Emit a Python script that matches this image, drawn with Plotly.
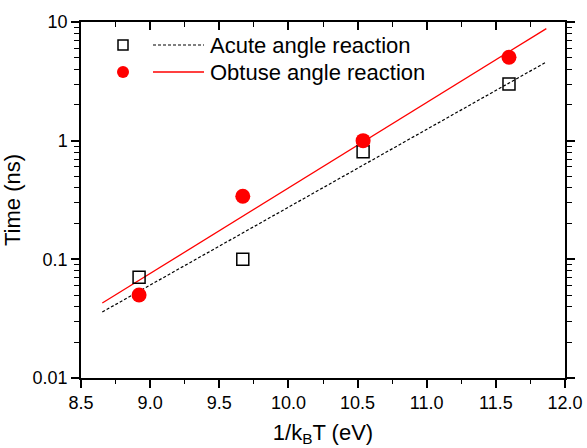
import plotly.graph_objects as go

# Data
inv_kT = [8.92, 9.67, 10.54, 11.595]
t_acute = [0.0705, 0.10, 0.805, 3.0]
t_obtuse = [0.050, 0.34, 1.0, 5.05]

fit_x = [8.654, 11.865]
fit_acute = [0.036, 4.6]
fit_obtuse = [0.0428, 8.8]

x_ticks = [8.5, 9.0, 9.5, 10.0, 10.5, 11.0, 11.5, 12.0]
x_tick_labels = ["8.5", "9.0", "9.5", "10.0", "10.5", "11.0", "11.5", "12.0"]
x_minor = [8.75, 9.25, 9.75, 10.25, 10.75, 11.25, 11.75]
y_ticks = [0.01, 0.1, 1, 10]
y_tick_labels = ["0.01", "0.1", "1", "10"]

legend_labels = ["Acute angle reaction", "Obtuse angle reaction"]

FONT = "Liberation Sans, Arial, sans-serif"

y_minor = [d * k for d in y_ticks[:-1] for k in range(2, 10)]

XR = [8.5, 12.0]
YR = [-2, 1]

fig = go.Figure()

fig.add_trace(go.Scatter(x=fit_x, y=fit_acute, mode="lines",
                         line=dict(color="black", width=1.2, dash="3px,2px"),
                         showlegend=False))
fig.add_trace(go.Scatter(x=fit_x, y=fit_obtuse, mode="lines",
                         line=dict(color="red", width=1.3),
                         showlegend=False))
fig.add_trace(go.Scatter(x=inv_kT, y=t_acute, mode="markers",
                         marker=dict(symbol="square-open", size=12, color="black",
                                     line=dict(width=1.5, color="black")),
                         showlegend=False))
fig.add_trace(go.Scatter(x=inv_kT, y=t_obtuse, mode="markers",
                         marker=dict(symbol="circle", size=15, color="red"),
                         showlegend=False))

# Legend glyphs on an overlay axis (0..1 both ways)
W, H = 587, 448
L, R, T, B = 81, 22, 22, 70
pw, ph = W - L - R, H - T - B
def px(x):
    return (x - L) / pw
def py(y):
    return 1 - (y - T) / ph

leg_rows = [45, 72]
fig.add_trace(go.Scatter(x=[px(123)], y=[py(leg_rows[0])], mode="markers",
                         marker=dict(symbol="square-open", size=10, color="black",
                                     line=dict(width=1.5, color="black")),
                         xaxis="x2", yaxis="y2", showlegend=False))
fig.add_trace(go.Scatter(x=[px(123)], y=[py(leg_rows[1])], mode="markers",
                         marker=dict(symbol="circle", size=12, color="red"),
                         xaxis="x2", yaxis="y2", showlegend=False))
fig.add_trace(go.Scatter(x=[px(153), px(204)], y=[py(leg_rows[0])] * 2, mode="lines",
                         line=dict(color="black", width=1.2, dash="3px,2px"),
                         xaxis="x2", yaxis="y2", showlegend=False))
fig.add_trace(go.Scatter(x=[px(153), px(204)], y=[py(leg_rows[1])] * 2, mode="lines",
                         line=dict(color="red", width=1.3),
                         xaxis="x2", yaxis="y2", showlegend=False))

# invisible traces to activate the extra tick axes
for xa, ya in [("x3", "y"), ("x4", "y"), ("x5", "y"), ("x", "y3")]:
    fig.add_trace(go.Scatter(x=[x_ticks[0]], y=[y_ticks[0]], mode="markers",
                             marker=dict(opacity=0), xaxis=xa, yaxis=ya,
                             showlegend=False, hoverinfo="skip"))

annotations = []
for lbl, row in zip(legend_labels, leg_rows):
    annotations.append(dict(x=px(208), y=py(row + 1), xref="paper", yref="paper",
                            text=lbl, showarrow=False, xanchor="left", yanchor="middle",
                            font=dict(family=FONT, size=22, color="black")))

tick_common = dict(showgrid=False, zeroline=False, automargin=False, tickcolor="black",
                   fixedrange=True)

fig.update_layout(
    width=W, height=H,
    margin=dict(l=L, r=R, t=T, b=B, autoexpand=False),
    paper_bgcolor="white", plot_bgcolor="white",
    font=dict(family=FONT, size=18, color="black"),
    annotations=annotations,
    xaxis=dict(range=XR, tickmode="array", tickvals=x_ticks, ticktext=x_tick_labels,
               ticks="outside", ticklen=8, tickwidth=1.5, tickcolor="black",
               showline=True, linecolor="black", linewidth=1.5, mirror=True,
               showgrid=False, zeroline=False, automargin=False,
               tickfont=dict(family=FONT, size=18),
               title=dict(text="1/k<sub>B</sub>T (eV)", font=dict(family=FONT, size=22),
                          standoff=12)),
    xaxis5=dict(range=XR, overlaying="x", side="bottom", tickmode="array",
                tickvals=x_minor, showticklabels=False, ticks="outside", ticklen=5,
                tickwidth=1.2, showline=False, **tick_common),
    xaxis3=dict(range=XR, overlaying="x", side="top", tickmode="array", tickvals=x_ticks[1:-1],
                showticklabels=False, ticks="inside", ticklen=8, tickwidth=1.5,
                showline=False, **tick_common),
    xaxis4=dict(range=XR, overlaying="x", side="top", tickmode="array", tickvals=x_minor,
                showticklabels=False, ticks="inside", ticklen=5, tickwidth=1.2,
                showline=False, **tick_common),
    yaxis=dict(type="log", range=YR, tickmode="array", tickvals=y_ticks,
               ticktext=y_tick_labels,
               ticks="outside", ticklen=8, tickwidth=1.5, tickcolor="black",
               showline=True, linecolor="black", linewidth=1.5, mirror="allticks",
               showgrid=False, zeroline=False, automargin=False,
               tickfont=dict(family=FONT, size=18),
               title=dict(text="Time (ns)", font=dict(family=FONT, size=22), standoff=10)),
    yaxis3=dict(type="log", range=YR, overlaying="y", side="left", tickmode="array",
                tickvals=y_minor, showticklabels=False, ticks="outside", ticklen=5,
                tickwidth=1.2, showline=True, linecolor="black", linewidth=1.5,
                mirror="allticks", **tick_common),
    xaxis2=dict(range=[0, 1], overlaying="x", visible=False, fixedrange=True),
    yaxis2=dict(range=[0, 1], overlaying="y", visible=False, fixedrange=True),
)

fig.write_html("out.html")
